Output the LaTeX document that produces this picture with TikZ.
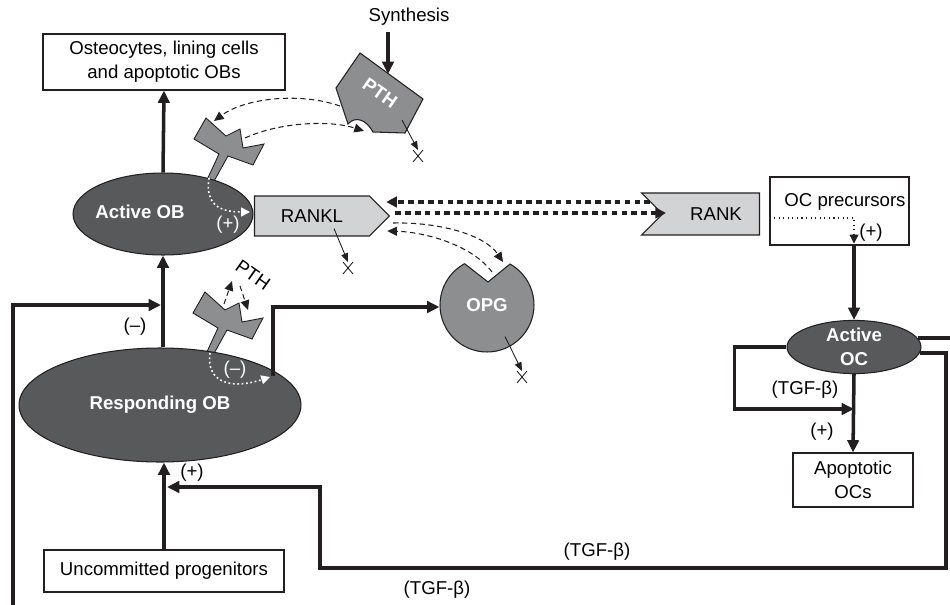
\documentclass[tikz,border=0pt]{standalone}
\usepackage{fontspec}
\setmainfont{Liberation Sans}
\usetikzlibrary{shapes.geometric,shapes.symbols,shapes.misc,arrows.meta,positioning,calc}

\definecolor{cellgray}{HTML}{58595B}
\definecolor{molgray}{HTML}{8C8E90}
\definecolor{ligandgray}{HTML}{D1D3D4}
\definecolor{inkblack}{HTML}{231F20}

% receptor drawn from its stalk base, in pixel units
\tikzset{receptor/.pic={
    \draw[inkblack, line width=0.5pt, fill=molgray] (-3,-58) -- (-15,-37) -- (10,-22) -- (-3,6) -- (4,7)
        -- (19,-20) -- (44,-11) -- (55,-32) -- (34,-28) -- (31,-47) -- (17,-40) -- cycle;
    \coordinate (-prong) at (5,-55);
    \coordinate (-arm) at (36,-38);
    \coordinate (-up0) at (16,-46);
    \coordinate (-up1) at (24,-69);
    \coordinate (-dn0) at (32,-64);
    \coordinate (-dn1) at (40,-40);
}}

\begin{document}
\begin{tikzpicture}
    [x=0.02cm, y=-0.02cm, font=\fontsize{10.6}{13.6}\selectfont,
    box/.style={draw=inkblack, line width=0.6pt, fill=white, align=center, inner sep=0pt},
    cell/.style={ellipse, draw=inkblack, line width=0.6pt, fill=cellgray, inner sep=0pt},
    celltext/.style={text=white, font=\fontsize{10.6}{13.6}\selectfont\bfseries, align=center},
    ligand/.style={signal, draw=inkblack, line width=0.6pt, fill=ligandgray, inner sep=0pt, minimum height=0.8cm},
    thk/.style={inkblack, line width=2pt, -{Triangle[length=7pt,width=6.5pt]}},
    dsh/.style={inkblack, line width=0.6pt, dash pattern=on 3pt off 2pt, -{Triangle[length=5.5pt,width=5pt]}},
    wdot/.style={white, line width=0.9pt, dash pattern=on 1pt off 1.5pt, -{Triangle[length=5pt,width=5pt]}},
    bigdot/.style={inkblack, line width=1.9pt, dash pattern=on 3.2pt off 2.4pt, -{Triangle[length=6pt,width=6pt]}},
    dotarrow/.style={inkblack, line width=0.6pt, dotted, -{Triangle[length=5pt,width=5pt]}},
    decay/.style={inkblack, line width=0.5pt, -{Triangle[length=5pt,width=4pt]}},
    xmark/.style={cross out, draw=inkblack, line width=0.5pt, minimum width=0.18cm, minimum height=0.22cm, inner sep=0pt}]

    \useasboundingbox (0,0) rectangle (950,605);

    % ligands and receptors first, cells go on top
    \node[ligand, signal to=east, signal from=nowhere, minimum width=2.7cm] (rankl) at (312,216) {RANKL};
    \node[ligand, signal from=west, signal to=nowhere, minimum width=2.36cm, minimum height=0.84cm] (rank) at (711,214) {\hspace{0.2cm}RANK};
    \pic (rc1) at (209,176) {receptor};
    \pic (rc2) at (208,350) {receptor};

    \node[cell, minimum width=3.6cm, minimum height=1.64cm] (actob) at (163,214) {};
    \node[celltext] (actoblbl) at (140,212) {Active OB};
    \node[cell, celltext, minimum width=5.64cm, minimum height=2.28cm] (resp) at (160,405) {Responding OB};
    \node[cell, celltext, minimum width=2.68cm, minimum height=1cm] (actoc) at (854,347) {Active\\OC};

    \node[box, minimum width=4.84cm, minimum height=1.12cm] (osteo) at (164,62) {Osteocytes, lining cells\\and apoptotic OBs};
    \node[box, minimum width=4.8cm, minimum height=0.84cm] (uncom) at (164,571) {Uncommitted progenitors};
    \node[box, minimum width=2.78cm, minimum height=1.36cm] (ocp) at (839.5,211) {};
    \node (ocplbl) at (845,202) {OC precursors};
    \node[box, minimum width=2.4cm, minimum height=1.08cm] (apop) at (853,480) {Apoptotic\\OCs};

    % PTH and OPG
    \node (synth) at (409,17) {Synthesis};
    \draw[inkblack, line width=0.6pt, fill=molgray] (360,53) -- (423,99) -- (405,133) -- (373,132)
        .. controls (366,119) and (355,116) .. (348,124) -- (336,88) -- cycle;
    \node[celltext, rotate=-35] (pth) at (380,93) {PTH};
    \coordinate (pthtop) at (388,74);
    \coordinate (pthin) at (340,106);
    \coordinate (pthbite) at (364,131);
    \coordinate (pthout) at (402,120);

    \node[circle, draw=inkblack, line width=0.6pt, fill=molgray, minimum size=1.88cm, inner sep=0pt,
        celltext] (opg) at (487,305) {OPG};
    \fill[white] (465,264) -- (488,282) -- (510,264) -- (513,250) -- (462,250) -- cycle;
    \draw[inkblack, line width=0.6pt] (465,264) -- (488,282) -- (510,264);
    \coordinate (opgin) at (503,262);
    \coordinate (opgout) at (492,272);

    % degradation
    \node[xmark] (pthx) at (418,156) {};
    \node[xmark] (rklx) at (348,268) {};
    \node[xmark] (opgx) at (522,377) {};
    \draw[decay] (pthout) -- (pthx.north);
    \draw[decay] ($(rankl.south)+(22,-8)$) -- (rklx.north);
    \draw[decay] ($(opg.south)+(18,-16)$) -- (opgx.north);

    % osteoblast line
    \draw[thk] (synth.south -| pthtop) -- (pthtop);
    \draw[thk] (actob.north) -- (osteo.south);
    \draw[thk] (resp.north -| actob.south) -- (actob.south);
    \draw[thk] (uncom.north) -- (uncom.north |- resp.south);
    \node at (135,327) {(--)};
    \node at (192,473) {(+)};

    \draw[wdot] (209,178) .. controls (205,205) and (220,212) .. (250,212);
    \node[text=white] at (228,225) {(+)};
    \draw[wdot] (210,353) .. controls (206,382) and (230,390) .. (270,377);
    \node[text=white] at (235,370) {(--)};
    \draw[thk] (273,376) -- (273,307) -- (opg.west |- 0,307);

    % PTH binding
    \draw[dsh] (pthin) .. controls (300,92) and (245,98) .. (rc1-prong);
    \draw[dsh] (rc1-arm) .. controls (280,122) and (330,120) .. (pthbite);
    \draw[dsh] (rc2-up0) -- (rc2-up1);
    \draw[dsh] (rc2-dn0) -- (rc2-dn1);
    \node[rotate=-35] (pthlbl) at (253,275) {PTH};

    % RANKL binding
    \draw[dsh] ($(rankl.east)+(3,7)$) .. controls (440,222) and (485,235) .. (opgin);
    \draw[dsh] (opgout) .. controls (472,245) and (425,232) .. ($(rankl.east)+(-3,15)$);
    \draw[bigdot] ($(rank.center)+(-61,-12)$) -- ($(rankl.east)+(-4,-14)$);
    \draw[bigdot] ($(rankl.east)+(5,-3)$) -- ($(rank.center)+(-45,-1)$);

    % osteoclast line
    \draw[dotarrow] (ocp.west |- 0,218) -| ($(ocp.south -| actoc.north)+(0,-2)$);
    \node at (871,233) {(+)};
    \draw[thk] (ocp.south -| actoc.north) -- (actoc.north);
    \draw[thk] (actoc.west) -- ++(-52,0) |- (actoc.south |- 0,409);
    \node at (805,390) {(TGF-β)};
    \draw[thk] (actoc.south) -- (apop.north);
    \node at (822,432) {(+)};

    % TGF-beta feedback
    \draw[thk] ($(actoc.east)+(-2,6)$) -- (946,353) -- (946,568) -- (320,568) -- (320,487)
        -- ($(uncom.north |- 0,487)+(3,0)$);
    \node at (597,552) {(TGF-β)};
    \draw[thk] ($(actoc.east)+(-4,-9)$) -- (965,338) -- (965,620) -- (13,620) -- (13,305)
        -- ($(actob.south |- 0,305)+(-2,0)$);
    \node at (437,590) {(TGF-β)};

\end{tikzpicture}
\end{document}
